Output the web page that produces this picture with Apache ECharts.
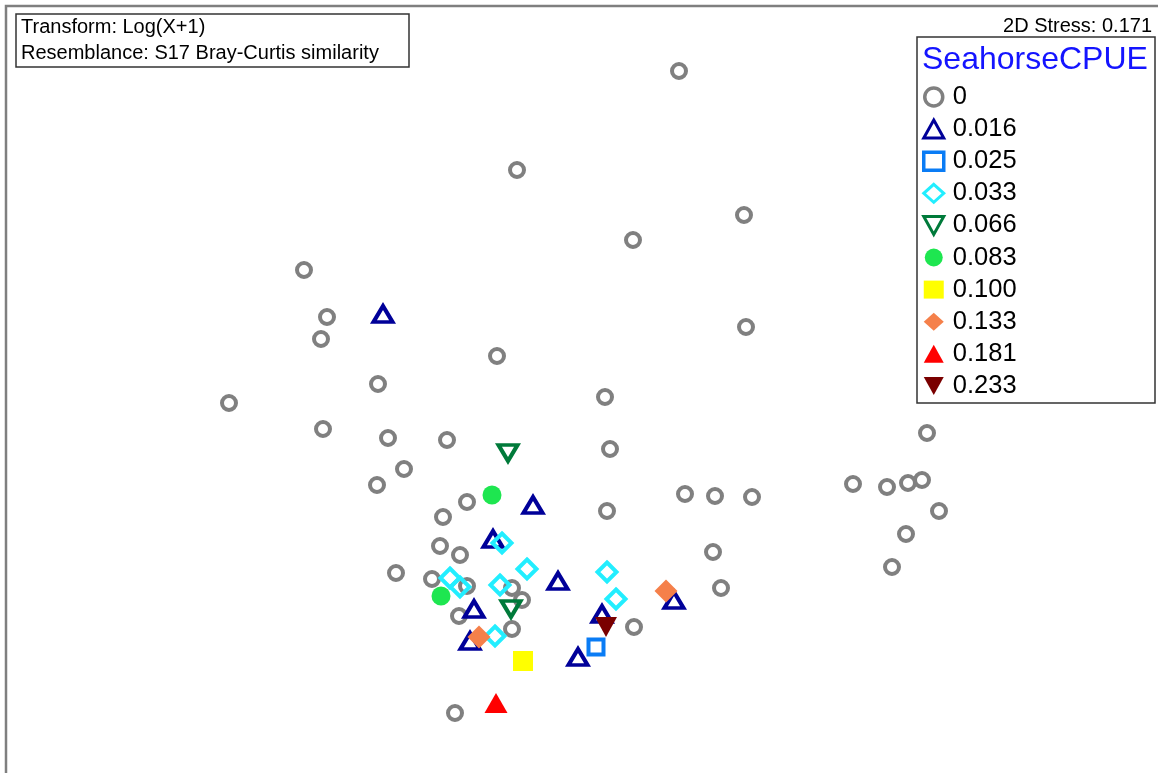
<!DOCTYPE html>
<html>
<head>
<meta charset="utf-8">
<script src="https://cdn.jsdelivr.net/npm/echarts@6/dist/echarts.min.js"></script>
<style>
  html, body { margin: 0; padding: 0; background: #fff; }
  #chart { width: 1158px; height: 773px; }
</style>
</head>
<body>
<div id="chart"></div>
<script>
// MDS ordination, points (plot units, y grows downward)
var cpue0 = [[679,71],[517,170],[744,215],[633,240],[304,270],[327,317],[321,339],[746,327],
    [497,356],[378,384],[229,403],[605,397],[323,429],[388,438],[447,440],[610,449],[404,469],
    [377,485],[467,502],[685,494],[715,496],[752,497],[853,484],[887,487],[908,483],[922,480],
    [927,433],[939,511],[906,534],[892,567],[607,511],[443,517],[440,546],[460,555],[713,552],
    [396,573],[432,579],[467,586],[512,588],[522,600],[721,588],[459,616],[512,629],[634,627],[455,713]];
var cpue016 = [[383,314],[533,505],[493,539],[558,581],[474,609],[470,641],[578,657],[602,614],[674,600]];
var cpue025 = [[596,647]];
var cpue033 = [[502,543],[527,569],[450,578],[460,587],[500,585],[607,572],[616,599],[495,636]];
var cpue066 = [[508,453],[511,609]];
var cpue083 = [[492,495],[441,596]];
var cpue100 = [[523,661]];
var cpue133 = [[479,637],[666,591]];
var cpue181 = [[496,703]];
var cpue233 = [[606,627]];

var groupNames = ['0', '0.016', '0.025', '0.033', '0.066', '0.083', '0.100', '0.133', '0.181', '0.233'];

var fontFam = '"Liberation Sans", Arial, sans-serif';
var downTri = 'path://M0,0 L10,0 L5,9 Z';

function hollow(name, data, symbol, size, color, rotate) {
    return {
        name: name,
        type: 'scatter',
        data: data,
        symbol: symbol,
        symbolSize: size,
        symbolRotate: rotate || 0,
        itemStyle: {color: 'transparent', borderColor: color, borderWidth: 4, opacity: 1},
        emphasis: {disabled: true}
    };
}

function filled(name, data, symbol, size, color, rotate) {
    return {
        name: name,
        type: 'scatter',
        data: data,
        symbol: symbol,
        symbolSize: size,
        symbolRotate: rotate || 0,
        itemStyle: {color: color, opacity: 1},
        emphasis: {disabled: true}
    };
}

var chart = echarts.init(document.getElementById('chart'));

chart.setOption({
    backgroundColor: '#fff',
    animation: false,
    grid: {left: 0, right: 0, top: 0, bottom: 0},
    xAxis: {type: 'value', min: 0, max: 1158, show: false},
    yAxis: {type: 'value', min: 0, max: 773, inverse: true, show: false},
    legend: {
        orient: 'vertical',
        left: 922,
        top: 84,
        padding: 0,
        itemWidth: 20,
        itemHeight: 18,
        itemGap: 6.1,
        selectedMode: false,
        textStyle: {color: '#000', fontSize: 25.5, lineHeight: 26, fontFamily: fontFam, padding: [0, 0, 0, 4]},
        data: [
            {name: '0', icon: 'circle', itemStyle: {borderWidth: 3.5}},
            {name: '0.016', itemStyle: {borderWidth: 3}},
            {name: '0.025', itemStyle: {borderWidth: 3.5}},
            {name: '0.033', itemStyle: {borderWidth: 3}},
            {name: '0.066', icon: downTri, itemStyle: {borderWidth: 3}},
            {name: '0.083'},
            {name: '0.100'},
            {name: '0.133'},
            {name: '0.181'},
            {name: '0.233', icon: downTri}
        ]
    },
    series: [
        hollow('0', cpue0, 'circle', 14, '#808080'),
        hollow('0.016', cpue016, 'triangle', [19, 16], '#000099'),
        hollow('0.025', cpue025, 'rect', 15, '#0a7cf5'),
        hollow('0.033', cpue033, 'diamond', [19, 19], '#22eeff'),
        hollow('0.066', cpue066, 'triangle', [19, 16], '#007a3a', 180),
        filled('0.083', cpue083, 'circle', 19, '#1ee650'),
        filled('0.100', cpue100, 'rect', 20, '#ffff00'),
        filled('0.133', cpue133, 'diamond', 23, '#f5804a'),
        filled('0.181', cpue181, 'triangle', [23, 20], '#ff0000'),
        filled('0.233', cpue233, 'triangle', [22, 20], '#7a0000', 180)
    ],
    graphic: [
        // outer plot frame (only left and top edges fall inside the picture)
        {type: 'polyline', shape: {points: [[6, 773], [6, 6], [1158, 6]]},
            style: {stroke: '#7f7f7f', lineWidth: 2.5, fill: null}, silent: true},
        {type: 'rect', shape: {x: 16, y: 14, width: 393, height: 53},
            style: {stroke: '#333', lineWidth: 1.5, fill: '#fff'}, silent: true},
        {type: 'text', left: 21, top: 17,
            style: {text: 'Transform: Log(X+1)', fontSize: 20, fontFamily: fontFam, fill: '#000'}},
        {type: 'text', left: 21, top: 43,
            style: {text: 'Resemblance: S17 Bray-Curtis similarity', fontSize: 20, fontFamily: fontFam, fill: '#000'}},
        {type: 'text', right: 6, top: 16,
            style: {text: '2D Stress: 0.171', fontSize: 20, fontFamily: fontFam, fill: '#000'}},
        {type: 'rect', shape: {x: 917, y: 37, width: 238, height: 366},
            style: {stroke: '#333', lineWidth: 1.5, fill: null}, silent: true, z: -1},
        {type: 'text', left: 922, top: 44,
            style: {text: 'SeahorseCPUE', fontSize: 32, fontFamily: fontFam, fill: '#1414ff'}}
    ]
});
</script>
</body>
</html>
